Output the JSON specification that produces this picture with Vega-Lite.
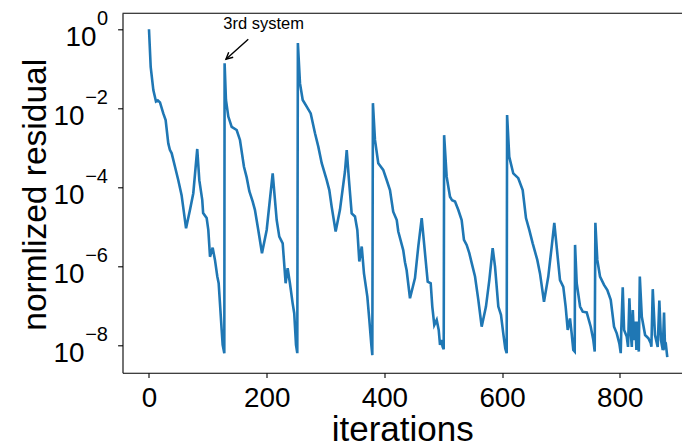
{
  "$schema": "https://vega.github.io/schema/vega-lite/v6.json",
  "autosize": {"type": "none"},
  "padding": {"left": 122.5, "top": 13.3, "right": 0, "bottom": 72.3},
  "width": 559.5,
  "height": 359.4,
  "background": "white",
  "config": {
    "view": {"stroke": null},
    "font": "Liberation Sans",
    "axis": {
      "domainColor": "black", "tickColor": "black", "labelColor": "black", "titleColor": "black",
      "domainWidth": 1.1, "tickWidth": 1.1, "tickSize": 4.9, "grid": false,
      "titleFontWeight": "normal", "labelFont": "Liberation Sans", "titleFont": "Liberation Sans",
      "labelFlush": false, "labelOverlap": false
    }
  },
  "datasets": {
    "residual": [
      {"iter": 0, "res": 1},
      {"iter": 2.9, "res": 0.112},
      {"iter": 7.4, "res": 0.0288},
      {"iter": 11.9, "res": 0.0148},
      {"iter": 15, "res": 0.0158},
      {"iter": 18.7, "res": 0.0141},
      {"iter": 24.3, "res": 0.00741},
      {"iter": 28.3, "res": 0.00501},
      {"iter": 32.8, "res": 0.00129},
      {"iter": 35.5, "res": 0.000891},
      {"iter": 38.6, "res": 0.000724},
      {"iter": 44.2, "res": 0.000331},
      {"iter": 49.8, "res": 0.000151},
      {"iter": 55.4, "res": 6.31e-5},
      {"iter": 63, "res": 9.12e-6},
      {"iter": 69.7, "res": 2.69e-5},
      {"iter": 75.3, "res": 7.08e-5},
      {"iter": 82, "res": 9.33e-4},
      {"iter": 85.5, "res": 1.51e-4},
      {"iter": 90.5, "res": 4.79e-5},
      {"iter": 92, "res": 2.24e-5},
      {"iter": 98, "res": 1.66e-5},
      {"iter": 100.8, "res": 8.32e-6},
      {"iter": 103.7, "res": 1.74e-6},
      {"iter": 108.2, "res": 2.95e-6},
      {"iter": 112.1, "res": 1.45e-6},
      {"iter": 116.1, "res": 5.5e-7},
      {"iter": 118.4, "res": 3.72e-7},
      {"iter": 123.5, "res": 2.45e-8},
      {"iter": 125.2, "res": 1.02e-8},
      {"iter": 128, "res": 6.31e-9},
      {"iter": 128.5, "res": 0.138},
      {"iter": 130.8, "res": 0.0162},
      {"iter": 134.8, "res": 0.00617},
      {"iter": 140.5, "res": 0.00339},
      {"iter": 149, "res": 0.00282},
      {"iter": 154.6, "res": 0.00158},
      {"iter": 161.4, "res": 3.31e-4},
      {"iter": 166, "res": 1.78e-4},
      {"iter": 170.5, "res": 7.94e-5},
      {"iter": 176, "res": 4.47e-5},
      {"iter": 180, "res": 2.69e-5},
      {"iter": 185.7, "res": 8.32e-6},
      {"iter": 192, "res": 2.14e-6},
      {"iter": 200, "res": 8.32e-6},
      {"iter": 210.2, "res": 2.24e-4},
      {"iter": 217, "res": 1.48e-5},
      {"iter": 221.4, "res": 5.62e-6},
      {"iter": 227.2, "res": 3.8e-6},
      {"iter": 232.2, "res": 3.72e-7},
      {"iter": 235.6, "res": 8.91e-7},
      {"iter": 239.5, "res": 3.72e-7},
      {"iter": 244.1, "res": 1.15e-7},
      {"iter": 246.8, "res": 6.46e-8},
      {"iter": 249.8, "res": 1.02e-8},
      {"iter": 252, "res": 6.31e-9},
      {"iter": 253, "res": 0.447},
      {"iter": 256.6, "res": 0.0427},
      {"iter": 261.2, "res": 0.0162},
      {"iter": 268, "res": 0.011},
      {"iter": 274.8, "res": 0.00741},
      {"iter": 282.1, "res": 0.00234},
      {"iter": 287.7, "res": 0.00107},
      {"iter": 293.5, "res": 4.07e-4},
      {"iter": 302, "res": 1.51e-4},
      {"iter": 306.4, "res": 8.51e-5},
      {"iter": 310.4, "res": 3.24e-5},
      {"iter": 317.2, "res": 7.59e-6},
      {"iter": 324.5, "res": 2.69e-5},
      {"iter": 333, "res": 2.51e-4},
      {"iter": 336, "res": 8.71e-4},
      {"iter": 339.8, "res": 1.51e-4},
      {"iter": 344.4, "res": 2.19e-5},
      {"iter": 350, "res": 1.82e-5},
      {"iter": 354, "res": 8.32e-6},
      {"iter": 357.4, "res": 1.32e-6},
      {"iter": 361.5, "res": 3.16e-6},
      {"iter": 365.3, "res": 6.61e-7},
      {"iter": 371, "res": 1.7e-7},
      {"iter": 374.4, "res": 4.37e-8},
      {"iter": 377.8, "res": 1.02e-8},
      {"iter": 379.5, "res": 5.62e-9},
      {"iter": 380.5, "res": 0.0135},
      {"iter": 384, "res": 0.00158},
      {"iter": 389.6, "res": 4.07e-4},
      {"iter": 398, "res": 2.75e-4},
      {"iter": 404, "res": 1.51e-4},
      {"iter": 409.5, "res": 8.51e-5},
      {"iter": 415, "res": 2.4e-5},
      {"iter": 421, "res": 1.48e-5},
      {"iter": 423.6, "res": 7.59e-6},
      {"iter": 432, "res": 2.57e-6},
      {"iter": 435, "res": 1.26e-6},
      {"iter": 437.8, "res": 7.94e-7},
      {"iter": 443.5, "res": 1.55e-7},
      {"iter": 452, "res": 5.01e-7},
      {"iter": 457.6, "res": 3.16e-6},
      {"iter": 463.4, "res": 1.66e-5},
      {"iter": 469, "res": 2.14e-6},
      {"iter": 473.6, "res": 4.07e-7},
      {"iter": 478.7, "res": 3.72e-7},
      {"iter": 481.4, "res": 9.55e-8},
      {"iter": 484.8, "res": 3.24e-8},
      {"iter": 488.9, "res": 4.37e-8},
      {"iter": 492.3, "res": 2.45e-8},
      {"iter": 494.5, "res": 1.02e-8},
      {"iter": 496.7, "res": 1.35e-8},
      {"iter": 499, "res": 9.12e-9},
      {"iter": 500.8, "res": 7.94e-9},
      {"iter": 501.5, "res": 0.00209},
      {"iter": 505.8, "res": 1.86e-4},
      {"iter": 511.5, "res": 5.75e-5},
      {"iter": 515, "res": 4.68e-5},
      {"iter": 520, "res": 4.37e-5},
      {"iter": 525.5, "res": 2.69e-5},
      {"iter": 531.3, "res": 1.48e-5},
      {"iter": 535.2, "res": 4.68e-6},
      {"iter": 539.8, "res": 3.47e-6},
      {"iter": 544.3, "res": 2.14e-6},
      {"iter": 548.4, "res": 1.2e-6},
      {"iter": 554, "res": 5.5e-7},
      {"iter": 559.6, "res": 1.41e-7},
      {"iter": 565.3, "res": 2.95e-8},
      {"iter": 572.6, "res": 9.55e-8},
      {"iter": 578.3, "res": 4.47e-7},
      {"iter": 584, "res": 2.88e-6},
      {"iter": 588, "res": 9.77e-7},
      {"iter": 593.6, "res": 9.55e-8},
      {"iter": 598.1, "res": 5.89e-8},
      {"iter": 602, "res": 2.0e-8},
      {"iter": 605.4, "res": 8.32e-9},
      {"iter": 607.8, "res": 6.31e-9},
      {"iter": 608.5, "res": 0.00676},
      {"iter": 612.2, "res": 5.89e-4},
      {"iter": 619, "res": 2.24e-4},
      {"iter": 627.5, "res": 1.7e-4},
      {"iter": 635, "res": 8.51e-5},
      {"iter": 640.6, "res": 1.66e-5},
      {"iter": 646.2, "res": 8.32e-6},
      {"iter": 652, "res": 3.8e-6},
      {"iter": 659.8, "res": 1.45e-6},
      {"iter": 664.4, "res": 6.61e-7},
      {"iter": 671.2, "res": 1.26e-7},
      {"iter": 678.5, "res": 5.5e-7},
      {"iter": 684.3, "res": 3.16e-6},
      {"iter": 688.7, "res": 1.26e-5},
      {"iter": 693.8, "res": 2.14e-6},
      {"iter": 698.4, "res": 4.47e-7},
      {"iter": 704, "res": 3.02e-7},
      {"iter": 708, "res": 9.55e-8},
      {"iter": 711.5, "res": 2.45e-8},
      {"iter": 715.4, "res": 4.79e-8},
      {"iter": 718.2, "res": 2.0e-8},
      {"iter": 721, "res": 7.59e-9},
      {"iter": 723.4, "res": 6.92e-9},
      {"iter": 724, "res": 3.47e-6},
      {"iter": 726.8, "res": 3.72e-7},
      {"iter": 732.5, "res": 9.55e-8},
      {"iter": 737, "res": 7.08e-8},
      {"iter": 743.8, "res": 6.76e-8},
      {"iter": 750.6, "res": 2.95e-8},
      {"iter": 755, "res": 1.35e-8},
      {"iter": 757.4, "res": 6.92e-9},
      {"iter": 758.5, "res": 1.26e-5},
      {"iter": 761.8, "res": 1.45e-6},
      {"iter": 766.4, "res": 5.5e-7},
      {"iter": 773.2, "res": 3.39e-7},
      {"iter": 778.8, "res": 2.51e-7},
      {"iter": 784.6, "res": 1.41e-7},
      {"iter": 790.2, "res": 2.95e-8},
      {"iter": 794.8, "res": 2.0e-8},
      {"iter": 799.2, "res": 1.12e-8},
      {"iter": 801.6, "res": 6.31e-9},
      {"iter": 802.6, "res": 2.69e-8},
      {"iter": 805, "res": 2.95e-7},
      {"iter": 807.3, "res": 2.45e-8},
      {"iter": 811.8, "res": 1.66e-8},
      {"iter": 814, "res": 9.12e-9},
      {"iter": 816.3, "res": 1.55e-7},
      {"iter": 818.7, "res": 2.0e-8},
      {"iter": 820.4, "res": 9.12e-9},
      {"iter": 822.1, "res": 7.76e-8},
      {"iter": 824.3, "res": 1.35e-8},
      {"iter": 826.5, "res": 3.98e-8},
      {"iter": 828.2, "res": 7.59e-9},
      {"iter": 830, "res": 3.98e-8},
      {"iter": 832.3, "res": 6.92e-9},
      {"iter": 834, "res": 5.5e-7},
      {"iter": 837.4, "res": 5.25e-8},
      {"iter": 843, "res": 1.82e-8},
      {"iter": 848.6, "res": 1.51e-8},
      {"iter": 852.6, "res": 1.12e-8},
      {"iter": 853.7, "res": 9.12e-9},
      {"iter": 856, "res": 2.63e-7},
      {"iter": 859.8, "res": 1.82e-8},
      {"iter": 864.4, "res": 9.12e-9},
      {"iter": 867.2, "res": 1.35e-7},
      {"iter": 870, "res": 1.35e-8},
      {"iter": 873, "res": 7.59e-9},
      {"iter": 875.2, "res": 6.76e-8},
      {"iter": 876.8, "res": 9.12e-9},
      {"iter": 878.5, "res": 1.0e-8},
      {"iter": 880.7, "res": 5.01e-9}
    ],
    "exps": [
      {"v": 1, "e": "0"},
      {"v": 0.01, "e": "−2"},
      {"v": 0.0001, "e": "−4"},
      {"v": 0.000001, "e": "−6"},
      {"v": 0.00000001, "e": "−8"}
    ],
    "note": [
      {"tx": 194.9, "ty": 1.0, "label": "3rd system", "ax": 168.7, "ay": 0.558, "bx": 130.8, "by": 0.174}
    ]
  },
  "layer": [
    {
      "data": {"name": "residual"},
      "mark": {"type": "line", "color": "#1f77b4", "strokeWidth": 2.6, "clip": true},
      "encoding": {
        "x": {
          "field": "iter", "type": "quantitative",
          "scale": {"domain": [-45, 905.7], "nice": false, "zero": false},
          "axis": {
            "title": "iterations", "titleFontSize": 35, "titleBaseline": "alphabetic", "titleY": 68,
            "values": [0, 200, 400, 600, 800], "labelFontSize": 27.8, "labelBaseline": "alphabetic",
            "labelPadding": 29, "format": "d"
          }
        },
        "y": {
          "field": "res", "type": "quantitative",
          "scale": {"type": "log", "domain": [2.02e-9, 2.54], "nice": false},
          "axis": {
            "title": "normlized residual", "titleFontSize": 33.5, "titleBaseline": "alphabetic",
            "titleX": -77.5, "titleY": 181, "titleAlign": "center", "titleAngle": -90,
            "values": [1, 0.01, 0.0001, 0.000001, 0.00000001],
            "labelExpr": "'10'", "labelFontSize": 27.8, "labelAlign": "right", "labelBaseline": "alphabetic",
            "labelOffset": 16,
            "labelPadding": {"condition": {"test": "datum.value == 1", "value": 21.6}, "value": 33.6}
          }
        }
      }
    },
    {
      "data": {"name": "exps"},
      "mark": {"type": "rule", "color": "black", "strokeWidth": 1.1},
      "transform": [{"filter": "datum.v == 1"}],
      "encoding": {"y": {"datum": 2.54}}
    },
    {
      "data": {"name": "exps"},
      "mark": {"type": "text", "fontSize": 20, "align": "right", "baseline": "alphabetic", "dx": -14.5, "dy": -4, "color": "black", "font": "Liberation Sans"},
      "encoding": {
        "x": {"datum": -45},
        "y": {"field": "v", "type": "quantitative"},
        "text": {"field": "e"}
      }
    },
    {
      "data": {"name": "note"},
      "mark": {"type": "text", "fontSize": 16.5, "align": "center", "baseline": "alphabetic", "color": "black", "font": "Liberation Sans"},
      "encoding": {
        "x": {"field": "tx", "type": "quantitative"},
        "y": {"field": "ty", "type": "quantitative"},
        "text": {"field": "label"}
      }
    },
    {
      "data": {"name": "note"},
      "mark": {"type": "rule", "color": "black", "strokeWidth": 1.4},
      "encoding": {
        "x": {"field": "ax", "type": "quantitative"},
        "y": {"field": "ay", "type": "quantitative"},
        "x2": {"field": "bx"},
        "y2": {"field": "by"}
      }
    },
    {
      "data": {"name": "note"},
      "mark": {"type": "point", "shape": "M-1,-0.5L0,0L-1,0.5", "filled": false, "size": 180, "strokeWidth": 1.4, "angle": 138, "color": "black", "opacity": 1},
      "encoding": {
        "x": {"field": "bx", "type": "quantitative"},
        "y": {"field": "by", "type": "quantitative"}
      }
    }
  ]
}
